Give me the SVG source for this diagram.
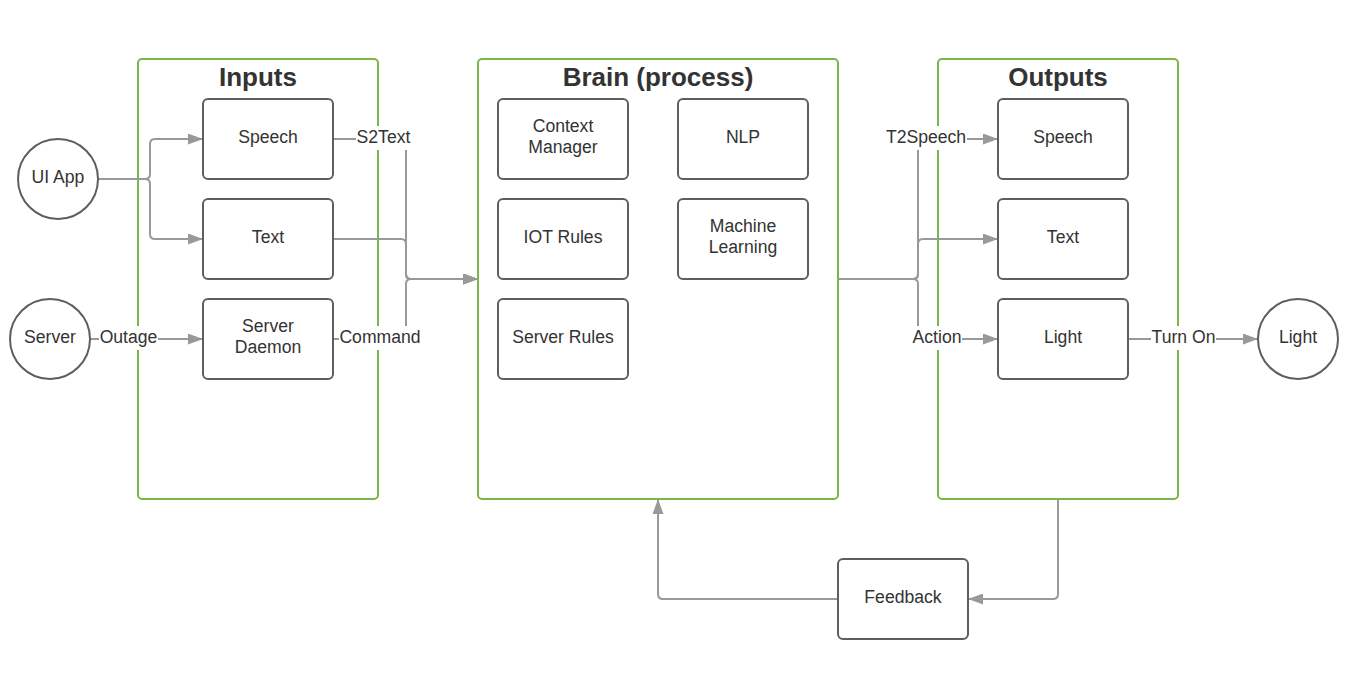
<svg xmlns="http://www.w3.org/2000/svg" width="1355" height="673" viewBox="0 0 1355 673">
<style>
.cont{fill:#fff;stroke:#7ab648;stroke-width:2}
.node{fill:#fff;stroke:#5e5e5e;stroke-width:2}
.title{font-family:"Liberation Sans",Arial,sans-serif;font-weight:bold;font-size:26px;fill:#333;text-anchor:middle}
.t{font-family:"Liberation Sans",Arial,sans-serif;font-size:17.6px;fill:#333;text-anchor:middle}
.c{fill:none;stroke:#999;stroke-width:2}
.lb{fill:#fff}
</style>
<defs>
<marker id="ah" viewBox="0 0 15 11" refX="15" refY="5.5" markerWidth="15" markerHeight="11" markerUnits="userSpaceOnUse" orient="auto">
<path d="M0,0 L15,5.5 L0,11 Z" fill="#999"/>
</marker>
</defs>
<rect width="1355" height="673" fill="#fff"/>
<g id="inputs"><rect class="cont" x="138" y="59" width="240" height="440" rx="4"/><text class="title" x="258" y="86">Inputs</text></g>
<g id="brain"><rect class="cont" x="478" y="59" width="360" height="440" rx="4"/><text class="title" x="658" y="86">Brain (process)</text></g>
<g id="outputs"><rect class="cont" x="938" y="59" width="240" height="440" rx="4"/><text class="title" x="1058" y="86">Outputs</text></g>

<g id="connectors">
<path class="c" d="M98,179 H145 Q150,179 150,174 V144 Q150,139 155,139 H203" marker-end="url(#ah)"/>
<path class="c" d="M98,179 H145 Q150,179 150,184 V234 Q150,239 155,239 H203" marker-end="url(#ah)"/>
<path class="c" d="M90,339 H203" marker-end="url(#ah)"/>
<path class="c" d="M333,139 H401 Q406,139 406,144 V274 Q406,279 411,279 H478" marker-end="url(#ah)"/>
<path class="c" d="M333,239 H401 Q406,239 406,244 V274 Q406,279 411,279 H478" marker-end="url(#ah)"/>
<path class="c" d="M333,339 H401 Q406,339 406,334 V284 Q406,279 411,279 H478" marker-end="url(#ah)"/>
<path class="c" d="M838,279 H913 Q918,279 918,274 V144 Q918,139 923,139 H998" marker-end="url(#ah)"/>
<path class="c" d="M838,279 H913 Q918,279 918,274 V244 Q918,239 923,239 H998" marker-end="url(#ah)"/>
<path class="c" d="M838,279 H913 Q918,279 918,284 V334 Q918,339 923,339 H998" marker-end="url(#ah)"/>
<path class="c" d="M1128,339 H1258" marker-end="url(#ah)"/>
<path class="c" d="M1058,499 V594 Q1058,599 1053,599 H968" marker-end="url(#ah)"/>
<path class="c" d="M838,599 H663 Q658,599 658,594 V499" marker-end="url(#ah)"/>
<rect class="lb" x="99" y="326" width="59" height="24"/><text class="t" x="128.5" y="343">Outage</text>
<rect class="lb" x="356" y="126" width="55" height="24"/><text class="t" x="383.5" y="143">S2Text</text>
<rect class="lb" x="339" y="326" width="83" height="24"/><text class="t" x="380" y="343">Command</text>
<rect class="lb" x="885" y="126" width="82" height="24"/><text class="t" x="926" y="143">T2Speech</text>
<rect class="lb" x="912" y="326" width="50" height="24"/><text class="t" x="937" y="343">Action</text>
<rect class="lb" x="1151" y="326" width="65" height="24"/><text class="t" x="1183.5" y="343">Turn On</text>
</g>

<g id="uiapp"><circle class="node" cx="58" cy="179" r="40"/><text class="t" x="58" y="183">UI App</text></g>
<g id="server"><circle class="node" cx="50" cy="339" r="40"/><text class="t" x="50" y="343">Server</text></g>
<g id="lightc"><circle class="node" cx="1298" cy="339" r="40"/><text class="t" x="1298" y="343">Light</text></g>

<g id="in-speech"><rect class="node" x="203" y="99" width="130" height="80" rx="5"/><text class="t" x="268" y="143">Speech</text></g>
<g id="in-text"><rect class="node" x="203" y="199" width="130" height="80" rx="5"/><text class="t" x="268" y="243">Text</text></g>
<g id="in-daemon"><rect class="node" x="203" y="299" width="130" height="80" rx="5"/><text class="t" x="268" y="332">Server</text><text class="t" x="268" y="353">Daemon</text></g>

<g id="context"><rect class="node" x="498" y="99" width="130" height="80" rx="5"/><text class="t" x="563" y="132">Context</text><text class="t" x="563" y="153">Manager</text></g>
<g id="nlp"><rect class="node" x="678" y="99" width="130" height="80" rx="5"/><text class="t" x="743" y="143">NLP</text></g>
<g id="iot"><rect class="node" x="498" y="199" width="130" height="80" rx="5"/><text class="t" x="563" y="243">IOT Rules</text></g>
<g id="ml"><rect class="node" x="678" y="199" width="130" height="80" rx="5"/><text class="t" x="743" y="232">Machine</text><text class="t" x="743" y="253">Learning</text></g>
<g id="srvrules"><rect class="node" x="498" y="299" width="130" height="80" rx="5"/><text class="t" x="563" y="343">Server Rules</text></g>

<g id="out-speech"><rect class="node" x="998" y="99" width="130" height="80" rx="5"/><text class="t" x="1063" y="143">Speech</text></g>
<g id="out-text"><rect class="node" x="998" y="199" width="130" height="80" rx="5"/><text class="t" x="1063" y="243">Text</text></g>
<g id="out-light"><rect class="node" x="998" y="299" width="130" height="80" rx="5"/><text class="t" x="1063" y="343">Light</text></g>

<g id="feedback"><rect class="node" x="838" y="559" width="130" height="80" rx="5"/><text class="t" x="903" y="603">Feedback</text></g>
</svg>
